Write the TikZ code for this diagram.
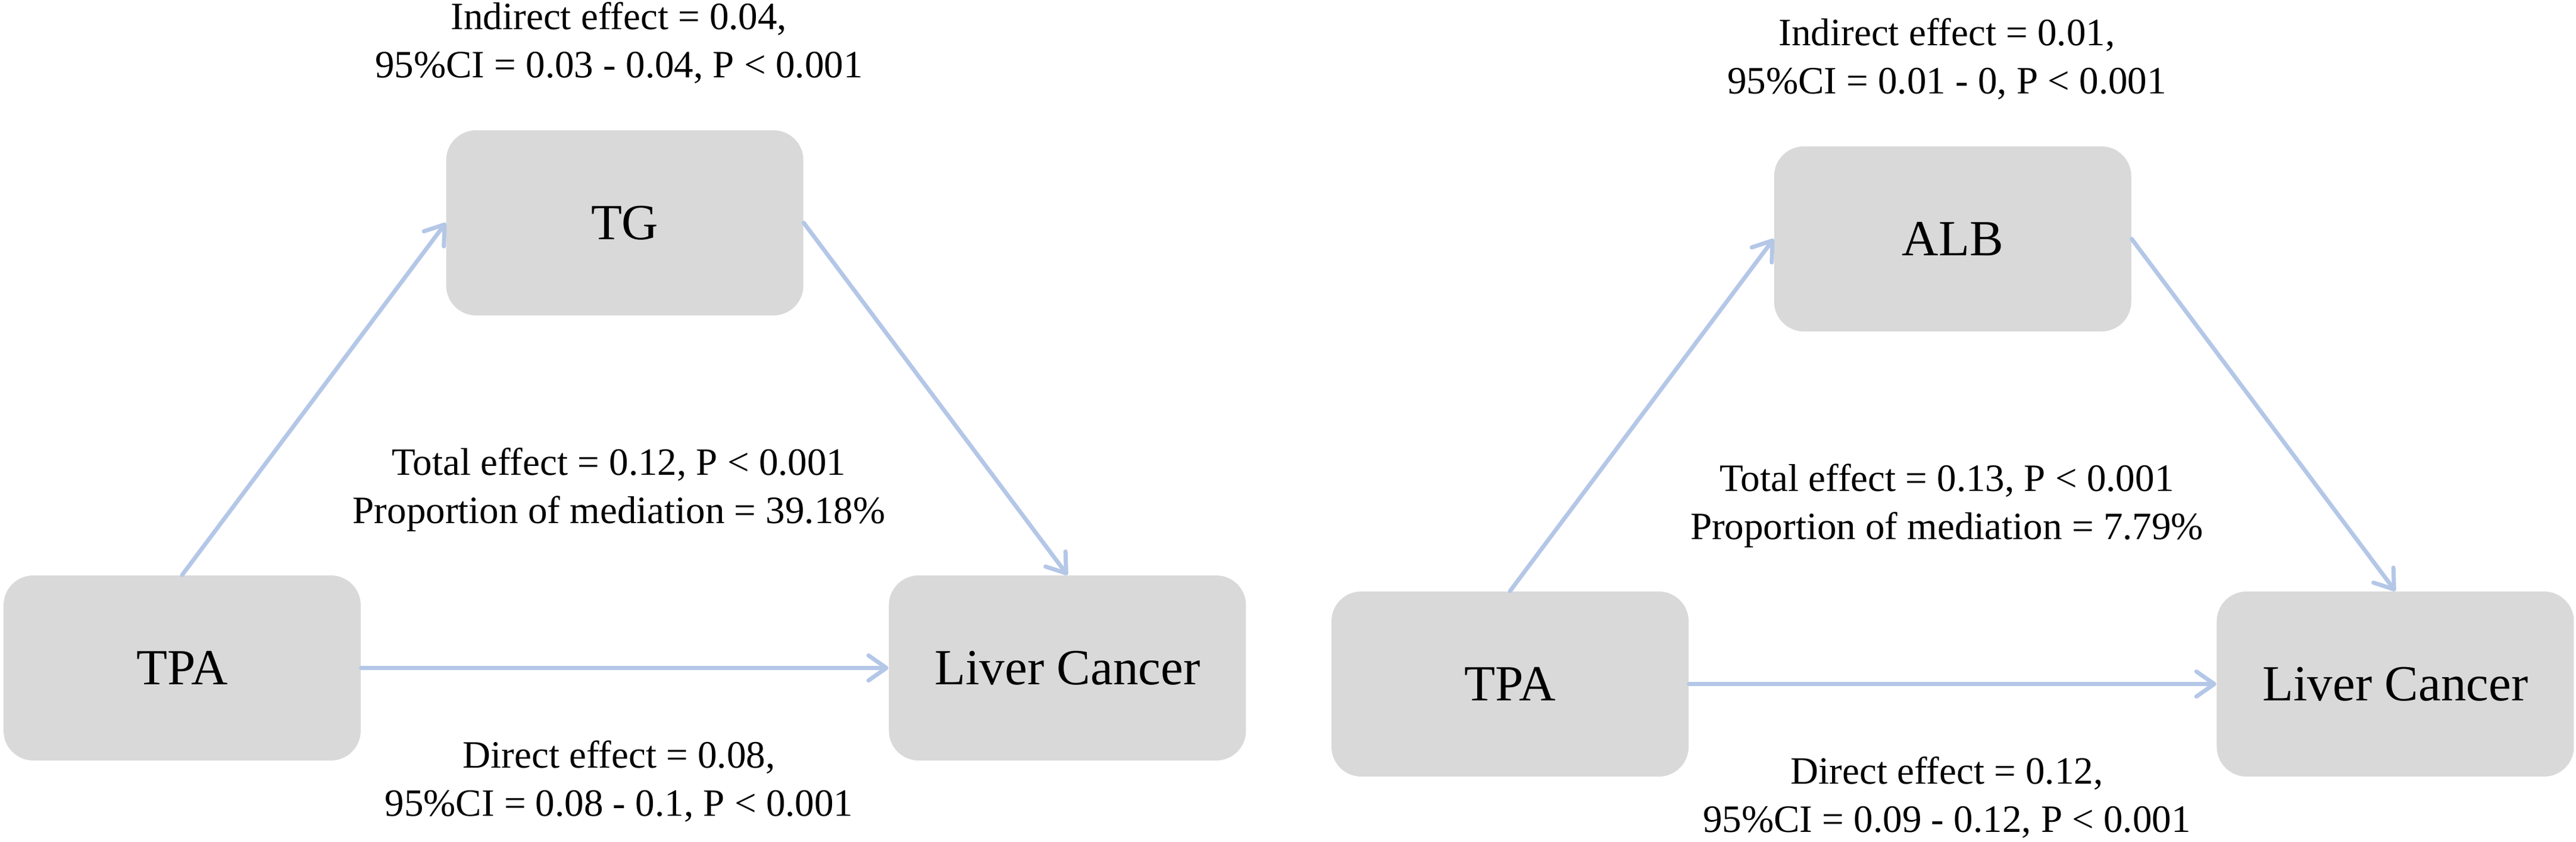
\documentclass[tikz,border=0pt]{standalone}
\usepackage{fontspec}
\setmainfont{Liberation Serif}
\usepackage{xcolor}
\usetikzlibrary{positioning, calc, arrows.meta}
\definecolor{boxgray}{HTML}{D9D9D9}
\definecolor{pathblue}{HTML}{B4C7E7}
\tikzset{
    box/.style={rectangle, rounded corners=0.5cm, fill=boxgray, minimum width=6cm, minimum height=3.11cm, font=\fontsize{24.2}{29}\selectfont}, % grey variable boxes
    path/.style={draw=pathblue, line width=0.07cm, line cap=round, -{Straight Barb[length=0.3cm, width=0.42cm, round]}}, % light blue arrows
    effect/.style={align=center, inner sep=0pt, anchor=base, font=\fontsize{18.5}{22.8}\selectfont}, % effect texts
}

\begin{document}
\begin{tikzpicture}
    \useasboundingbox (0,0) rectangle (43.28,-14.14);

    \node[box] (tpaL) at (3.06,-11.225) {TPA};
    \node[box, right=8.86cm of tpaL] (lcL) {Liver Cancer};
    \node[box] (tgL) at ($(tpaL)!0.5!(lcL)+(0,7.48)$) {TG};
    \draw[path] (tpaL.north) -- (tgL.west);
    \draw[path] (tgL.east) -- (lcL.north);
    \draw[path] (tpaL.east) -- (lcL.west);
    \node[effect] (indL) at (10.40,-1.30) {Indirect effect = 0.04,\\95\%CI = 0.03 - 0.04, P < 0.001};
    \node[effect] (totL) at (10.40,-8.79) {Total effect = 0.12, P < 0.001\\Proportion of mediation = 39.18\%};
    \node[effect] (dirL) at (10.40,-13.71) {Direct effect = 0.08,\\95\%CI = 0.08 - 0.1, P < 0.001};

    \begin{scope}[shift={(22.31,-0.27)}]
        \node[box] (tpaR) at (3.06,-11.225) {TPA};
        \node[box, right=8.86cm of tpaR] (lcR) {Liver Cancer};
        \node[box] (albR) at ($(tpaR)!0.5!(lcR)+(0,7.48)$) {ALB};
        \draw[path] (tpaR.north) -- (albR.west);
        \draw[path] (albR.east) -- (lcR.north);
        \draw[path] (tpaR.east) -- (lcR.west);
        \node[effect] (indR) at (10.40,-1.30) {Indirect effect = 0.01,\\95\%CI = 0.01 - 0, P < 0.001};
        \node[effect] (totR) at (10.40,-8.79) {Total effect = 0.13, P < 0.001\\Proportion of mediation = 7.79\%};
        \node[effect] (dirR) at (10.40,-13.71) {Direct effect = 0.12,\\95\%CI = 0.09 - 0.12, P < 0.001};
    \end{scope}
\end{tikzpicture}
\end{document}
